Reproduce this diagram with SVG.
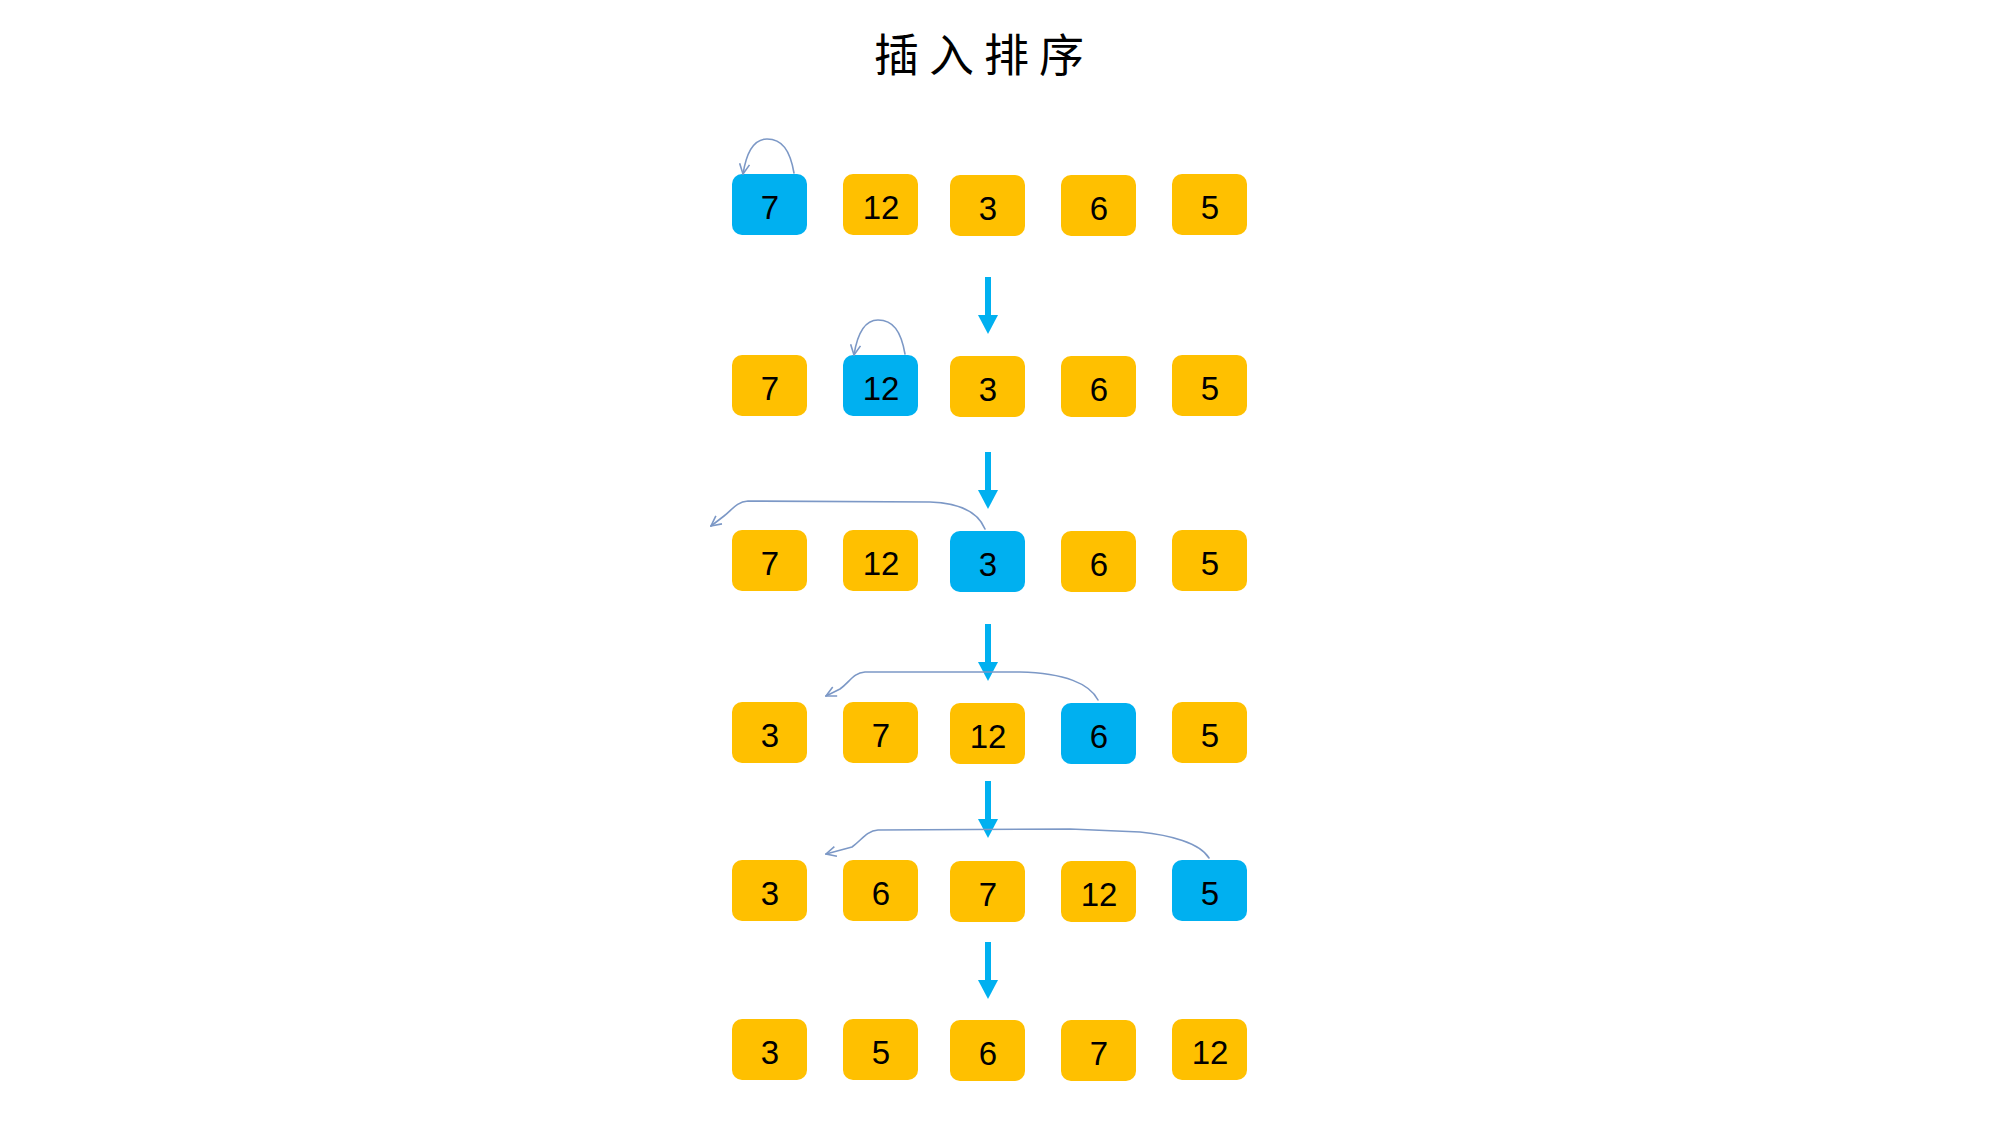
<svg xmlns="http://www.w3.org/2000/svg" width="1999" height="1131" viewBox="0 0 1999 1131">
<style>
.y{fill:#FFC000}
.b{fill:#00B0F0}
.t{font-family:"Liberation Sans","DejaVu Sans",sans-serif;font-size:33px;fill:#000;text-anchor:middle;dominant-baseline:central}
.ttl{font-family:"Noto Sans CJK SC","Noto Sans CJK JP",sans-serif;font-size:45px;fill:#000;text-anchor:middle}
.c{fill:none;stroke:#7C98C6;stroke-width:1.6;stroke-linecap:round;stroke-linejoin:round}
.a{fill:#00B0F0}
</style>
<defs>
<marker id="v" viewBox="0 0 12 12" refX="11" refY="6" markerWidth="12" markerHeight="12" markerUnits="userSpaceOnUse" orient="auto">
<path d="M1,1 L11,6 L1,11" fill="none" stroke="#7C98C6" stroke-width="1.6"/>
</marker>
<g id="dn"><rect x="-3" y="0" width="6" height="40"/><path d="M-10,38 L10,38 L0,57 Z"/></g>
</defs>
<rect width="1999" height="1131" fill="#fff"/>
<text class="ttl" x="984" y="72" letter-spacing="10">插入排序</text>

<g id="row1">
<g id="r1n1"><rect class="b" x="732" y="174" width="75" height="61" rx="10"/><text class="t" x="770" y="207">7</text></g>
<g id="r1n2"><rect class="y" x="843" y="174" width="75" height="61" rx="10"/><text class="t" x="881" y="207">12</text></g>
<g id="r1n3"><rect class="y" x="950" y="175" width="75" height="61" rx="10"/><text class="t" x="988" y="208">3</text></g>
<g id="r1n4"><rect class="y" x="1061" y="175" width="75" height="61" rx="10"/><text class="t" x="1099" y="208">6</text></g>
<g id="r1n5"><rect class="y" x="1172" y="174" width="75" height="61" rx="10"/><text class="t" x="1210" y="207">5</text></g>
</g>
<g id="row2">
<g id="r2n1"><rect class="y" x="732" y="355" width="75" height="61" rx="10"/><text class="t" x="770" y="388">7</text></g>
<g id="r2n2"><rect class="b" x="843" y="355" width="75" height="61" rx="10"/><text class="t" x="881" y="388">12</text></g>
<g id="r2n3"><rect class="y" x="950" y="356" width="75" height="61" rx="10"/><text class="t" x="988" y="389">3</text></g>
<g id="r2n4"><rect class="y" x="1061" y="356" width="75" height="61" rx="10"/><text class="t" x="1099" y="389">6</text></g>
<g id="r2n5"><rect class="y" x="1172" y="355" width="75" height="61" rx="10"/><text class="t" x="1210" y="388">5</text></g>
</g>
<g id="row3">
<g id="r3n1"><rect class="y" x="732" y="530" width="75" height="61" rx="10"/><text class="t" x="770" y="563">7</text></g>
<g id="r3n2"><rect class="y" x="843" y="530" width="75" height="61" rx="10"/><text class="t" x="881" y="563">12</text></g>
<g id="r3n3"><rect class="b" x="950" y="531" width="75" height="61" rx="10"/><text class="t" x="988" y="564">3</text></g>
<g id="r3n4"><rect class="y" x="1061" y="531" width="75" height="61" rx="10"/><text class="t" x="1099" y="564">6</text></g>
<g id="r3n5"><rect class="y" x="1172" y="530" width="75" height="61" rx="10"/><text class="t" x="1210" y="563">5</text></g>
</g>
<g id="row4">
<g id="r4n1"><rect class="y" x="732" y="702" width="75" height="61" rx="10"/><text class="t" x="770" y="735">3</text></g>
<g id="r4n2"><rect class="y" x="843" y="702" width="75" height="61" rx="10"/><text class="t" x="881" y="735">7</text></g>
<g id="r4n3"><rect class="y" x="950" y="703" width="75" height="61" rx="10"/><text class="t" x="988" y="736">12</text></g>
<g id="r4n4"><rect class="b" x="1061" y="703" width="75" height="61" rx="10"/><text class="t" x="1099" y="736">6</text></g>
<g id="r4n5"><rect class="y" x="1172" y="702" width="75" height="61" rx="10"/><text class="t" x="1210" y="735">5</text></g>
</g>
<g id="row5">
<g id="r5n1"><rect class="y" x="732" y="860" width="75" height="61" rx="10"/><text class="t" x="770" y="893">3</text></g>
<g id="r5n2"><rect class="y" x="843" y="860" width="75" height="61" rx="10"/><text class="t" x="881" y="893">6</text></g>
<g id="r5n3"><rect class="y" x="950" y="861" width="75" height="61" rx="10"/><text class="t" x="988" y="894">7</text></g>
<g id="r5n4"><rect class="y" x="1061" y="861" width="75" height="61" rx="10"/><text class="t" x="1099" y="894">12</text></g>
<g id="r5n5"><rect class="b" x="1172" y="860" width="75" height="61" rx="10"/><text class="t" x="1210" y="893">5</text></g>
</g>
<g id="row6">
<g id="r6n1"><rect class="y" x="732" y="1019" width="75" height="61" rx="10"/><text class="t" x="770" y="1052">3</text></g>
<g id="r6n2"><rect class="y" x="843" y="1019" width="75" height="61" rx="10"/><text class="t" x="881" y="1052">5</text></g>
<g id="r6n3"><rect class="y" x="950" y="1020" width="75" height="61" rx="10"/><text class="t" x="988" y="1053">6</text></g>
<g id="r6n4"><rect class="y" x="1061" y="1020" width="75" height="61" rx="10"/><text class="t" x="1099" y="1053">7</text></g>
<g id="r6n5"><rect class="y" x="1172" y="1019" width="75" height="61" rx="10"/><text class="t" x="1210" y="1052">12</text></g>
</g>

<g id="connectors">
<g class="a">
<use href="#dn" x="988" y="277"/>
<use href="#dn" x="988" y="452"/>
<use href="#dn" x="988" y="624"/>
<use href="#dn" x="988" y="781"/>
<use href="#dn" x="988" y="942"/>
</g>
<path class="c" marker-end="url(#v)" d="M794,173 C790,150 782,139 767,139 C752,139 746,155 743,174"/>
<path class="c" marker-end="url(#v)" d="M905,354 C901,331 893,320 878,320 C863,320 857,336 854,355"/>
<path class="c" marker-end="url(#v)" d="M985,529 C978,512 960,503 930,502 L748,501 C736,502 732,510 724,516 L711,526"/>
<path class="c" marker-end="url(#v)" d="M1098,700 C1090,684 1065,673 1020,672 L865,672 C853,673 850,682 840,689 L826,696"/>
<path class="c" marker-end="url(#v)" d="M1209,858 C1200,843 1170,835 1140,832 L1070,829 L878,830 C866,831 862,840 852,847 L826,854"/>
</g>
</svg>
